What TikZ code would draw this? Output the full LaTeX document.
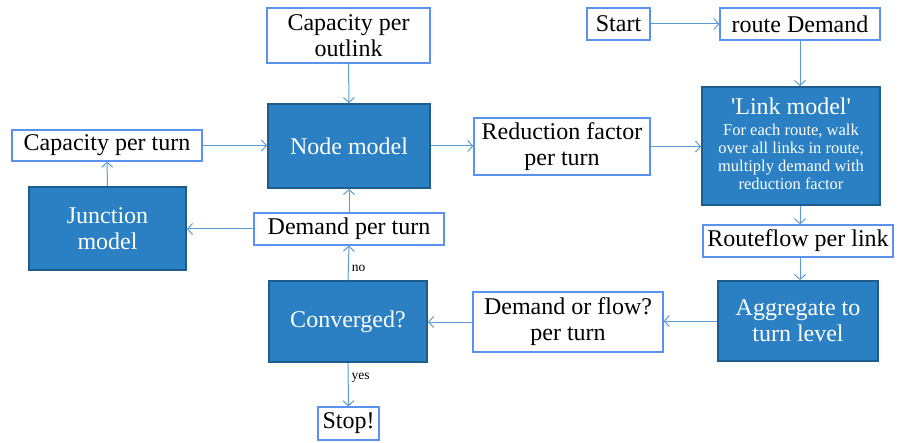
\documentclass[tikz,border=0pt]{standalone}
\usepackage{fontspec}
\setmainfont{Liberation Serif}[Ligatures=TeXOff]
\usetikzlibrary{arrows.meta}
\definecolor{darkfill}{HTML}{2A80C2}
\definecolor{darkline}{HTML}{1E5C8C}
\definecolor{lightline}{HTML}{5B92F0}
\definecolor{arrowc}{HTML}{5B9BD5}
\tikzset{
  lbox/.style={draw=lightline, line width=1.2pt, fill=white, inner sep=0pt, align=center,
    font=\fontsize{24}{26}\selectfont, text=black},
  dbox/.style={draw=darkline, line width=1.8pt, fill=darkfill, inner sep=0pt, align=center,
    font=\fontsize{24}{26}\selectfont, text=white},
  conn/.style={draw=arrowc, line width=1pt, -{Straight Barb[length=5pt,width=11pt]}},
  lab/.style={font=\fontsize{13.5}{15}\selectfont, text=black, inner sep=1pt}
}
\begin{document}
\begin{tikzpicture}[x=1pt,y=-1pt]
\useasboundingbox (0,0) rectangle (901,443);
\node[lbox, minimum width=163pt, minimum height=55pt] (outlink) at (348.5,35.5) {Capacity per\\outlink};
\node[lbox, minimum width=63pt, minimum height=32pt] (start) at (618.5,24) {Start};
\node[lbox, minimum width=160pt, minimum height=32pt] (route) at (800,24) {route Demand};
\node[lbox, minimum width=190pt, minimum height=31pt] (capturn) at (107,145.5) {Capacity per turn};
\node[dbox, minimum width=162pt, minimum height=84pt] (nodem) at (349,146) {Node model};
\node[lbox, minimum width=176pt, minimum height=57pt] (red) at (562,146.5) {Reduction factor\\per turn};
\node[dbox, minimum width=178pt, minimum height=118pt] (link) at (791,146)
  {'Link model'\\[-5pt]{\fontsize{16.5}{18}\selectfont\begin{tabular}[t]{@{}c@{}}For each route, walk\\over all links in route,\\multiply demand with\\reduction factor\end{tabular}}};
\node[dbox, minimum width=157pt, minimum height=83pt] (junc) at (107.5,228.5) {Junction\\model};
\node[lbox, minimum width=190pt, minimum height=32pt] (dpt) at (349,229) {Demand per turn};
\node[lbox, minimum width=190pt, minimum height=32pt] (rfl) at (798,241) {Routeflow per link};
\node[dbox, minimum width=158pt, minimum height=81pt] (conv) at (348,321.5) {Converged?};
\node[lbox, minimum width=190pt, minimum height=60pt] (dof) at (568,322) {Demand or flow?\\per turn};
\node[dbox, minimum width=160pt, minimum height=80pt] (agg) at (798,321) {Aggregate to\\turn level};
\node[lbox, minimum width=61pt, minimum height=33pt] (stop) at (348.5,423.5) {Stop!};

\draw[conn] (outlink.south) -- (nodem.north);
\draw[conn] (start.east) -- (route.west);
\draw[conn] (route.south) -- (route.south |- link.north);
\draw[conn] (capturn.east) -- (capturn.east -| nodem.west);
\draw[conn] (nodem.east) -- (nodem.east -| red.west);
\draw[conn] (red.east) -- (red.east -| link.west);
\draw[conn] (route.south |- link.south) -- (route.south |- rfl.north);
\draw[conn] (route.south |- rfl.south) -- (route.south |- agg.north);
\draw[conn] (agg.west) -- (agg.west -| dof.east);
\draw[conn] (dof.west) -- (dof.west -| conv.east);
\draw[conn] (conv.north) -- node[lab, anchor=west, pos=0.35, xshift=2pt] {no} (dpt.south);
\draw[conn] (dpt.north) -- (nodem.south);
\draw[conn] (dpt.west) -- (dpt.west -| junc.east);
\draw[conn] (junc.north) -- (capturn.south);
\draw[conn] (conv.south) -- node[lab, anchor=west, pos=0.35, xshift=2pt] {yes} (stop.north);
\end{tikzpicture}
\end{document}
